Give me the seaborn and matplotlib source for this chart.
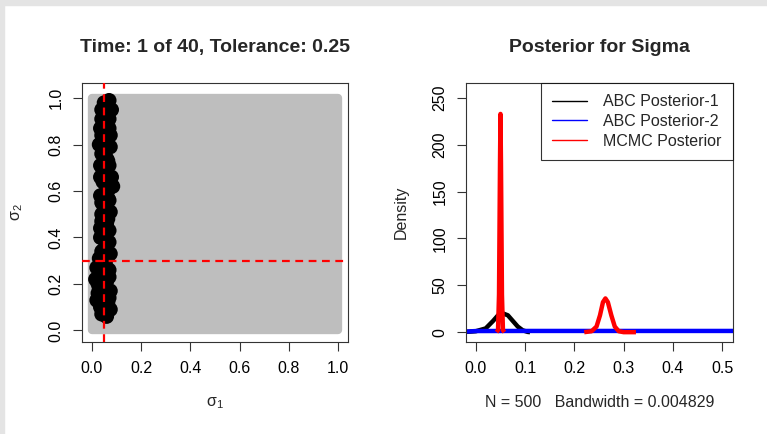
import matplotlib
matplotlib.use("Agg")

import matplotlib.pyplot as plt
import numpy as np
import pandas as pd
import seaborn as sns
from matplotlib.patches import Rectangle

# prior box for (sigma1, sigma2)
prior_lo, prior_hi = 0.0, 1.0
true_sigma = [0.05, 0.3]

# accepted ABC particles at time 1
acc_sigma1 = [0.05, 0.07, 0.04, 0.06, 0.08, 0.05, 0.07, 0.04, 0.06, 0.03,
              0.075, 0.05, 0.065, 0.035, 0.055, 0.08, 0.045, 0.085, 0.06, 0.035,
              0.07, 0.05, 0.04, 0.065, 0.045, 0.07, 0.035, 0.06, 0.05, 0.075,
              0.03, 0.055, 0.02, 0.07, 0.04, 0.015, 0.06, 0.03, 0.075, 0.045,
              0.02, 0.065, 0.035, 0.055, 0.04, 0.075,
              0.06, 0.045, 0.065, 0.05, 0.06, 0.045, 0.055, 0.065, 0.05, 0.06,
              0.045, 0.06, 0.05, 0.04, 0.055, 0.03, 0.05, 0.025,
              0.04, 0.07, 0.035, 0.075, 0.04, 0.07, 0.035, 0.07, 0.04, 0.075,
              0.04, 0.07, 0.035, 0.065, 0.04, 0.07, 0.025, 0.07, 0.03, 0.06]
acc_sigma2 = [0.98, 0.99, 0.95, 0.93, 0.95, 0.89, 0.87, 0.84, 0.82, 0.80,
              0.79, 0.76, 0.73, 0.71, 0.68, 0.66, 0.64, 0.62, 0.60, 0.58,
              0.56, 0.53, 0.50, 0.48, 0.45, 0.43, 0.40, 0.38, 0.35, 0.33,
              0.31, 0.29, 0.27, 0.26, 0.24, 0.22, 0.21, 0.18, 0.17, 0.15,
              0.13, 0.12, 0.10, 0.08, 0.07, 0.09,
              0.96, 0.91, 0.85, 0.79, 0.74, 0.69, 0.63, 0.57, 0.51, 0.46,
              0.41, 0.35, 0.30, 0.27, 0.19, 0.26, 0.14, 0.16,
              0.91, 0.91, 0.87, 0.84, 0.76, 0.71, 0.66, 0.61, 0.55, 0.51,
              0.47, 0.38, 0.44, 0.32, 0.34, 0.23, 0.20, 0.14, 0.12, 0.06]

# density curves for sigma
abc1_x = [-0.02, 0.0, 0.02, 0.035, 0.045, 0.055, 0.065, 0.075, 0.085, 0.095, 0.105, 0.11]
abc1_y = [0.3, 1.0, 4.0, 12.0, 18.0, 20.0, 18.0, 12.0, 6.0, 2.0, 0.3, 0.0]
abc2_x = [-0.02, 0.0, 0.1, 0.2, 0.3, 0.4, 0.5, 0.55]
abc2_y = [0.6, 1.2, 1.3, 1.3, 1.3, 1.3, 1.3, 1.3]
mcmc1_x = [0.042, 0.045, 0.047, 0.049, 0.05, 0.051, 0.053, 0.055, 0.058]
mcmc1_y = [0.0, 2.0, 40.0, 180.0, 233.0, 180.0, 40.0, 2.0, 0.0]
mcmc2_x = [0.22, 0.235, 0.245, 0.252, 0.258, 0.263, 0.268, 0.275, 0.282, 0.29, 0.3, 0.325]
mcmc2_y = [0.0, 1.0, 6.0, 18.0, 32.0, 36.0, 32.0, 18.0, 6.0, 1.0, 0.0, 0.0]

sns.set_style("ticks")
plt.rcParams["font.family"] = ["Liberation Sans", "DejaVu Sans"]
plt.rcParams["mathtext.fontset"] = "custom"
plt.rcParams["mathtext.rm"] = "Liberation Sans"

fig = plt.figure(figsize=(7.67, 4.34), dpi=100)
fig.patches.append(Rectangle((0, 1 - 5 / 434), 1, 5 / 434, transform=fig.transFigure,
                             color="#e4e4e4", zorder=0))
fig.patches.append(Rectangle((0, 0), 4 / 767, 1, transform=fig.transFigure,
                             color="#e4e4e4", zorder=0))

ax1 = fig.add_axes([82 / 767, 1 - 342 / 434, 266 / 767, 259 / 434])
ax2 = fig.add_axes([466 / 767, 1 - 342 / 434, 267 / 767, 259 / 434])

# left: particles
ax1.fill_between([prior_lo, prior_hi], prior_lo, prior_hi, color="#bebebe",
                 edgecolor="#bebebe", linewidth=6, joinstyle="round", zorder=1)
acc = pd.DataFrame({"s1": acc_sigma1, "s2": acc_sigma2})
sns.scatterplot(data=acc, x="s1", y="s2", ax=ax1, color="black", s=115,
                edgecolor="none", zorder=2)
ax1.axvline(true_sigma[0], color="red", lw=1.6, dashes=(3.5, 2.5), zorder=3)
ax1.axhline(true_sigma[1], color="red", lw=1.6, dashes=(3.5, 2.5), zorder=3)
ax1.set_xlim(-0.04, 1.04)
ax1.set_ylim(-0.05, 1.065)
ticks1 = np.arange(0, 1.01, 0.2)
ax1.set_xticks(ticks1)
ax1.set_yticks(ticks1)
ax1.set_xticklabels([f"{v:.1f}" for v in ticks1])
ax1.set_yticklabels([f"{v:.1f}" for v in ticks1])
ax1.set_xlabel("σ$_\\mathregular{1}$", fontsize=11.5, labelpad=14)
ax1.set_ylabel("σ$_\\mathregular{2}$", fontsize=11.5, labelpad=17)
ax1.set_title("Time: 1 of 40, Tolerance: 0.25", fontsize=14, fontweight="bold", pad=22)

# right: posterior densities
curves = [
    (abc1_x, abc1_y, "black"),
    (abc2_x, abc2_y, "blue"),
    (mcmc1_x, mcmc1_y, "red"),
    (mcmc2_x, mcmc2_y, "red"),
]
for xs, ys, col in curves:
    sns.lineplot(x=xs, y=ys, ax=ax2, color=col, lw=3.2, sort=False,
                 estimator=None, solid_capstyle="butt")
ax2.set_xlim(-0.02, 0.522)
ax2.set_ylim(-10.5, 266)
ticks2 = np.arange(0, 0.51, 0.1)
ax2.set_xticks(ticks2)
ax2.set_xticklabels([f"{v:.1f}" for v in ticks2])
ax2.set_yticks(np.arange(0, 251, 50))
ax2.set_xlabel("N = 500   Bandwidth = 0.004829", fontsize=11.5, labelpad=14)
ax2.set_ylabel("Density", fontsize=11.5, labelpad=17)
ax2.set_title("Posterior for Sigma", fontsize=14, fontweight="bold", pad=22)

handles = [plt.Line2D([], [], color=c, lw=1) for c in ["black", "blue", "red"]]
leg = ax2.legend(handles, ["ABC Posterior-1", "ABC Posterior-2", "MCMC Posterior"],
                 loc="upper right", borderaxespad=0, fontsize=11.5, frameon=True,
                 fancybox=False, handlelength=2.2, handletextpad=1.0,
                 labelspacing=0.3, borderpad=0.7)
leg.get_frame().set_edgecolor("black")
leg.get_frame().set_linewidth(0.8)

for ax in (ax1, ax2):
    for sp in ax.spines.values():
        sp.set_visible(True)
        sp.set_color("#333333")
        sp.set_linewidth(0.8)
    ax.tick_params(direction="out", length=6.5, width=0.8, pad=7, labelsize=11.5,
                   colors="#333333", labelcolor="black")
    ax.tick_params(axis="y", labelrotation=90)
    for t in ax.get_yticklabels():
        t.set_verticalalignment("center")

fig.savefig("out.png", dpi=100)
